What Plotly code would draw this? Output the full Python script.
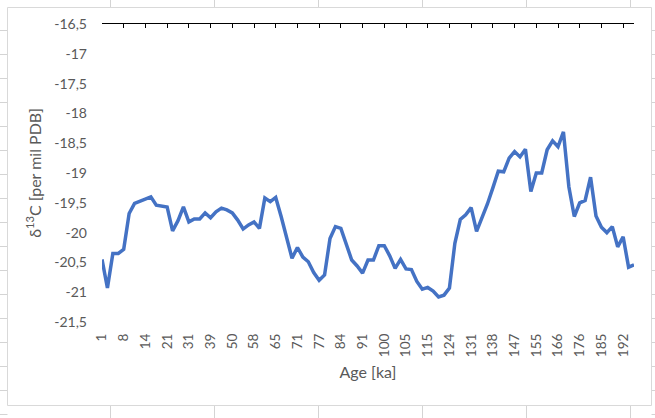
import plotly.graph_objects as go

# δ13C values, one per sample
delta13c = [
    -20.45, -20.93, -20.35, -20.35, -20.28, -19.68, -19.51, -19.47, -19.44, -19.40,
    -19.54, -19.55, -19.57, -19.97, -19.80, -19.57, -19.82, -19.77, -19.77, -19.67,
    -19.75, -19.65, -19.59, -19.62, -19.67, -19.79, -19.94, -19.87, -19.82, -19.93,
    -19.42, -19.48, -19.41, -19.73, -20.07, -20.43, -20.25, -20.41, -20.49, -20.67,
    -20.80, -20.71, -20.10, -19.90, -19.93, -20.18, -20.46, -20.56, -20.68, -20.46,
    -20.46, -20.22, -20.22, -20.39, -20.60, -20.45, -20.61, -20.62, -20.82, -20.95,
    -20.92, -20.98, -21.08, -21.05, -20.93, -20.18, -19.78, -19.70, -19.58, -19.98,
    -19.76, -19.52, -19.25, -18.97, -18.98, -18.75, -18.64, -18.73, -18.60, -19.31,
    -19.00, -19.00, -18.61, -18.46, -18.56, -18.31, -19.23, -19.73, -19.50, -19.46,
    -19.07, -19.72, -19.91, -20.00, -19.90, -20.24, -20.07, -20.58, -20.54,
]

# Age labels shown on the category axis (every 4th sample)
age_labels = ["1", "8", "14", "21", "31", "39", "50", "58", "65", "71", "77", "84", "91",
              "100", "105", "115", "124", "131", "138", "147", "155", "166", "176", "185", "192"]
label_step = 4

y_tick_vals = [-16.5, -17, -17.5, -18, -18.5, -19, -19.5, -20, -20.5, -21, -21.5]
y_tick_text = ["-16,5", "-17", "-17,5", "-18", "-18,5", "-19", "-19,5", "-20", "-20,5", "-21", "-21,5"]

idx = list(range(len(delta13c)))
tick_idx = idx[::label_step][:len(age_labels)]

W, H = 655, 418
ML, MR, MT, MB = 102, 21, 24, 96
FONT = "Lato, Carlito, 'Open Sans', sans-serif"
GREY = "#595959"

fig = go.Figure()
fig.add_trace(go.Scatter(
    x=idx, y=delta13c, mode="lines",
    line=dict(color="#4472C4", width=3.5),
    hoverinfo="skip", showlegend=False,
))
# invisible copy so the top (category) axis is drawn
fig.add_trace(go.Scatter(
    x=idx, y=delta13c, xaxis="x2", mode="lines",
    line=dict(color="rgba(0,0,0,0)", width=0),
    hoverinfo="skip", showlegend=False,
))

# spreadsheet cell lines visible around the chart area + chart area border
# ('paper' coordinates are relative to the plot area, so convert from page pixels)
PW, PH = W - ML - MR, H - MT - MB
def px_x(v):
    return (v - ML) / PW
def px_y(v):
    return (H - MB - v) / PH

shapes = []
cell_grey = "#d4d4d4"
L, R, T, B = 7.5, 651.5, 7.5, 405.5
for cx in [110.5, 214.5, 318.5, 422.5, 526.5, 630.5]:
    for (ya, yb) in [(0, T), (B, H)]:
        shapes.append(dict(type="line", xref="paper", yref="paper",
                           x0=px_x(cx), x1=px_x(cx), y0=px_y(ya), y1=px_y(yb),
                           line=dict(color=cell_grey, width=1), layer="above"))
for ry in range(30, H + 1, 24):
    for (xa, xb) in [(0, L), (R, W)]:
        shapes.append(dict(type="line", xref="paper", yref="paper",
                           x0=px_x(xa), x1=px_x(xb), y0=px_y(ry + 0.5), y1=px_y(ry + 0.5),
                           line=dict(color=cell_grey, width=1), layer="above"))
shapes.append(dict(type="rect", xref="paper", yref="paper",
                   x0=px_x(L), x1=px_x(R), y0=px_y(B), y1=px_y(T),
                   line=dict(color="#d9d9d9", width=1), layer="above"))

fig.update_layout(
    width=W, height=H,
    margin=dict(l=ML, r=MR, t=MT, b=MB, pad=0),
    paper_bgcolor="white",
    plot_bgcolor="white",
    font=dict(family=FONT, color=GREY),
    shapes=shapes,
    xaxis=dict(
        range=[0, len(delta13c) - 1], automargin=False,
        tickmode="array", tickvals=tick_idx, ticktext=age_labels,
        tickangle=-90, ticks="", showline=False, showgrid=False, zeroline=False,
        ticklabelstandoff=8,
        tickfont=dict(size=13.5, color=GREY, family=FONT),
        title=dict(text="Age [ka]", font=dict(size=16, color=GREY, family=FONT), standoff=10),
    ),
    xaxis2=dict(
        overlaying="x", side="top", anchor="y", automargin=False,
        range=[0, len(delta13c) - 1],
        tickmode="array", tickvals=tick_idx, showticklabels=False,
        ticks="inside", ticklen=4, tickcolor="black", tickwidth=1,
        showline=True, linecolor="black", linewidth=1.2,
        showgrid=False, zeroline=False,
    ),
    yaxis=dict(
        range=[-21.5, -16.5], automargin=False,
        tickmode="array", tickvals=y_tick_vals, ticktext=y_tick_text,
        ticks="", showline=False, showgrid=False, zeroline=False,
        ticklabelstandoff=14,
        tickfont=dict(size=14, color=GREY, family=FONT),
        title=dict(text="δ<sup>13</sup>C [per mil PDB]", font=dict(size=16, color=GREY, family=FONT), standoff=8),
    ),
)

fig.write_html(
    "out.html",
    config={"displayModeBar": False},
    post_script="document.body.style.margin='0';document.body.style.padding='0';",
)
